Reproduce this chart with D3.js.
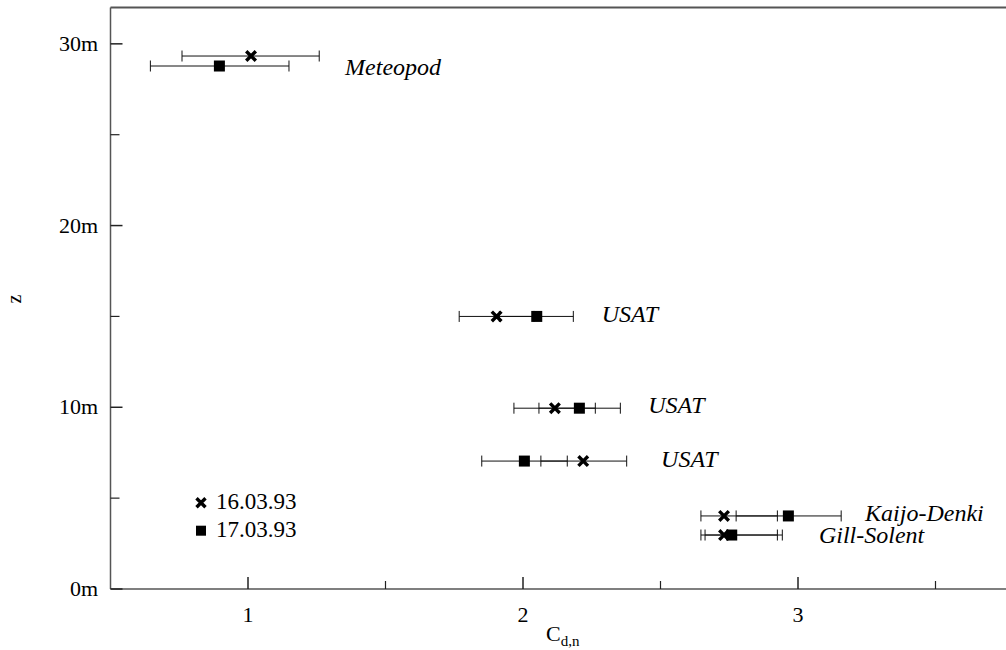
<!DOCTYPE html>
<html><head><meta charset="utf-8">
<script src="https://cdn.jsdelivr.net/npm/d3@7"></script>
<style>body{margin:0;background:#fff}svg{display:block}</style>
</head><body><svg id="c" width="1006" height="650"></svg>
<script>
// Instruments (label text)
const instruments = ["Meteopod", "USAT", "USAT", "USAT", "Kaijo-Denki", "Gill-Solent"];
// 16.03.93 series (cross)
const z16  = [29.33, 15.0, 9.95, 7.04, 4.02, 2.97];
const cd16 = [1.011, 1.904, 2.116, 2.219, 2.731, 2.731];
const lo16 = [0.760, 1.768, 1.967, 2.065, 2.647, 2.647];
const hi16 = [1.259, 2.040, 2.263, 2.377, 2.925, 2.925];
// 17.03.93 series (square)
const z17  = [28.78, 15.0, 9.95, 7.04, 4.02, 2.97];
const cd17 = [0.896, 2.050, 2.205, 2.005, 2.965, 2.759];
const lo17 = [0.645, 1.914, 2.058, 1.850, 2.775, 2.662];
const hi17 = [1.149, 2.183, 2.354, 2.161, 3.157, 2.943];
// label anchors (data units)
const labelCd = [1.353, 2.286, 2.455, 2.502, 3.244, 3.076];
const labelZ  = [28.29, 14.69, 9.69, 6.71, 3.74, 2.53];
// ticks
const xMajor = [1, 2, 3], xMinor = [1.5, 2.5, 3.5];
const yMajor = [0, 10, 20, 30], yMinor = [5, 15, 25];
const yTickLabels = ["0m", "10m", "20m", "30m"];
const legendLabels = ["16.03.93", "17.03.93"];

const svg = d3.select("#c");
const L = 110.5, T = 7.5, B = 589;
const x = d3.scaleLinear().domain([0.5, 1]).range([L, L + 137.5]);
const y = d3.scaleLinear().domain([0, 32]).range([B, T]);
const axisCol = "#555";
const serif = "'Liberation Serif','DejaVu Serif',serif";

// frame: left, bottom, top
svg.append("line").attr("x1", L).attr("x2", L).attr("y1", T).attr("y2", B).attr("stroke", axisCol).attr("stroke-width", 1.5);
svg.append("line").attr("x1", L).attr("x2", 1006).attr("y1", B).attr("y2", B).attr("stroke", axisCol).attr("stroke-width", 1.5);
svg.append("line").attr("x1", L).attr("x2", 1006).attr("y1", T).attr("y2", T).attr("stroke", axisCol).attr("stroke-width", 2);

// x ticks (inward)
svg.selectAll(".xM").data(xMajor).enter().append("line")
  .attr("x1", d => x(d)).attr("x2", d => x(d)).attr("y1", B).attr("y2", B - 12)
  .attr("stroke", "#222").attr("stroke-width", 1.5);
svg.selectAll(".xm").data(xMinor).enter().append("line")
  .attr("x1", d => x(d)).attr("x2", d => x(d)).attr("y1", B).attr("y2", B - 8)
  .attr("stroke", "#222").attr("stroke-width", 1.2);
svg.selectAll(".xl").data(xMajor).enter().append("text")
  .attr("x", d => x(d)).attr("y", 622).attr("text-anchor", "middle")
  .attr("font-family", serif).attr("font-size", 22).text(d => d);

// y ticks (inward)
svg.selectAll(".yM").data(yMajor).enter().append("line")
  .attr("x1", L).attr("x2", L + 12).attr("y1", d => y(d)).attr("y2", d => y(d))
  .attr("stroke", "#222").attr("stroke-width", 1.5);
svg.selectAll(".ym").data(yMinor).enter().append("line")
  .attr("x1", L).attr("x2", L + 9).attr("y1", d => y(d)).attr("y2", d => y(d))
  .attr("stroke", "#222").attr("stroke-width", 1.2);
svg.selectAll(".yl").data(yMajor).enter().append("text")
  .attr("x", 98).attr("y", d => y(d) + 7).attr("text-anchor", "end")
  .attr("font-family", serif).attr("font-size", 22).text((d, i) => yTickLabels[i]);

// axis titles
const xt = svg.append("text").attr("x", 546).attr("y", 641).attr("font-family", serif).attr("font-size", 22);
xt.append("tspan").text("C");
xt.append("tspan").attr("font-size", 15).attr("dy", 5).text("d,n");
svg.append("text").attr("transform", "translate(21,299) rotate(-90)").attr("text-anchor", "middle")
  .attr("font-family", serif).attr("font-size", 20).text("z");

// error bars
function errbars(zs, los, his) {
  const g = svg.append("g").attr("stroke", "#111").attr("stroke-width", 1);
  zs.forEach((zv, i) => {
    const yy = y(zv);
    g.append("line").attr("x1", x(los[i])).attr("x2", x(his[i])).attr("y1", yy).attr("y2", yy);
    g.append("line").attr("x1", x(los[i])).attr("x2", x(los[i])).attr("y1", yy - 5.5).attr("y2", yy + 5.5);
    g.append("line").attr("x1", x(his[i])).attr("x2", x(his[i])).attr("y1", yy - 5.5).attr("y2", yy + 5.5);
  });
}
errbars(z16, lo16, hi16);
errbars(z17, lo17, hi17);

function cross(g, cx, cy, s) {
  g.append("path").attr("d", `M${cx - s},${cy - s}L${cx + s},${cy + s}M${cx - s},${cy + s}L${cx + s},${cy - s}`)
    .attr("stroke", "#000").attr("stroke-width", 3.4).attr("fill", "none");
}
function square(g, cx, cy, s) {
  g.append("rect").attr("x", cx - s).attr("y", cy - s).attr("width", 2 * s).attr("height", 2 * s).attr("fill", "#000");
}
const mg = svg.append("g");
cd17.forEach((v, i) => square(mg, x(v), y(z17[i]), 5.5));
cd16.forEach((v, i) => cross(mg, x(v), y(z16[i]), 4.8));

// instrument labels
svg.selectAll(".lab").data(instruments).enter().append("text")
  .attr("x", (d, i) => x(labelCd[i])).attr("y", (d, i) => y(labelZ[i]))
  .attr("font-family", serif).attr("font-style", "italic").attr("font-size", 24).text(d => d);

// legend
const lg = svg.append("g");
cross(lg, 201, 502.7, 4.5);
square(lg, 201, 530.7, 5);
legendLabels.forEach((t, i) => {
  lg.append("text").attr("x", 216).attr("y", 508.5 + i * 28.5).attr("font-family", serif).attr("font-size", 23).text(t);
});
</script></body></html>
